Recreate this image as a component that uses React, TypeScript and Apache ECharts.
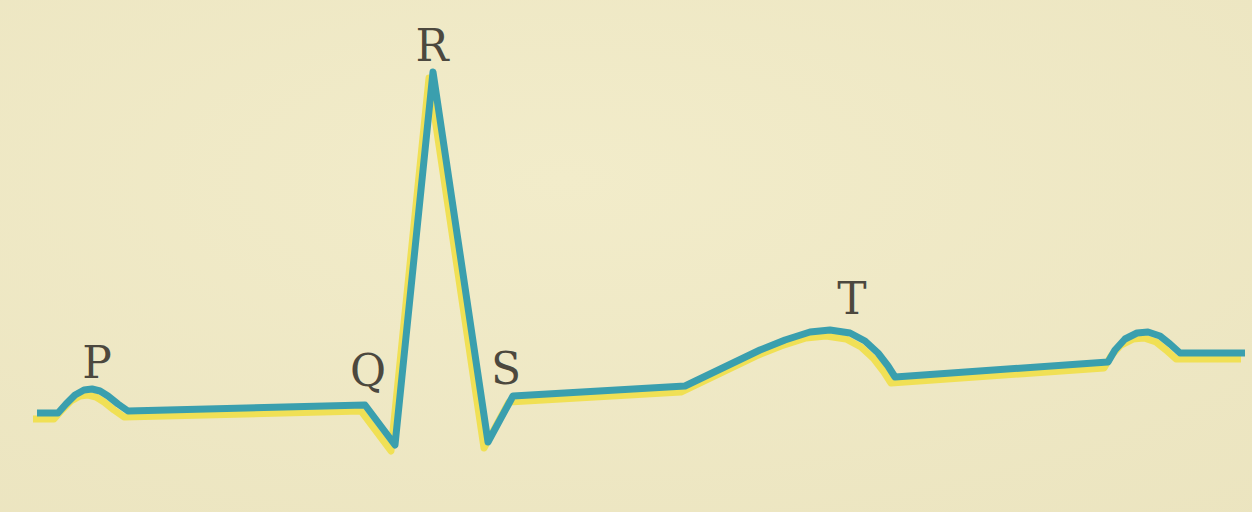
import React, { useEffect, useRef } from "react";
import * as echarts from "echarts";

// ECG trace: [x, y] in picture units (y grows downward)
const traceX = [37, 58, 66, 75, 84, 92, 100, 108, 118, 128, 365, 395, 433, 488, 513, 685, 710, 735, 760, 785, 810, 830, 850, 865, 878, 888, 895, 1108, 1115, 1125, 1137, 1148, 1160, 1170, 1180, 1245];
const traceY = [413, 413, 404, 395, 390, 389, 391, 396, 404, 411, 405, 445, 72, 442, 396, 386, 374, 362, 350, 340, 332, 330, 333, 341, 353, 366, 377, 362, 350, 339, 333, 332, 336, 344, 353, 353];

const waveNames = ["P", "Q", "R", "S", "T"];
const waveLabelX = [97, 368, 432, 506, 852];
const waveLabelY = [362, 370, 45, 368, 298];

const W = 1252;
const H = 512;

export default function App() {
  const ref = useRef<HTMLDivElement>(null);
  useEffect(() => {
    document.body.style.margin = "0";
    const chart = echarts.init(ref.current!, null, { renderer: "svg" });
    const trace = traceX.map((x, i) => [x, traceY[i]]);
    const labels = waveNames.map((n, i) => ({ value: [waveLabelX[i], waveLabelY[i]], name: n }));
    const grid = { left: 0, top: 0, right: 0, bottom: 0 };
    chart.setOption({
      animation: false,
      backgroundColor: {
        type: "radial", x: 0.45, y: 0.35, r: 0.9,
        colorStops: [
          { offset: 0, color: "#f2ecca" },
          { offset: 1, color: "#ebe4bf" },
        ],
      },
      grid: [grid, grid],
      xAxis: [
        { type: "value", min: 4, max: W + 4, show: false, gridIndex: 0 },
        { type: "value", min: 0, max: W, show: false, gridIndex: 1 },
      ],
      yAxis: [
        { type: "value", min: -6, max: H - 6, inverse: true, show: false, gridIndex: 0 },
        { type: "value", min: 0, max: H, inverse: true, show: false, gridIndex: 1 },
      ],
      series: [
        {
          type: "line", xAxisIndex: 0, yAxisIndex: 0, data: trace, showSymbol: false,
          lineStyle: { color: "#f0e055", width: 7, join: "round" },
        },
        {
          type: "line", xAxisIndex: 1, yAxisIndex: 1, data: trace, showSymbol: false,
          lineStyle: { color: "#3a9fae", width: 7, join: "round" },
        },
        {
          type: "scatter", xAxisIndex: 1, yAxisIndex: 1, data: labels, symbolSize: 0,
          label: {
            show: true, position: "inside", formatter: "{b}",
            fontFamily: "DejaVu Serif", fontSize: 44, color: "#1f1c19",
          },
        },
      ],
    });
    return () => chart.dispose();
  }, []);
  return <div ref={ref} style={{ width: W, height: H }} />;
}
